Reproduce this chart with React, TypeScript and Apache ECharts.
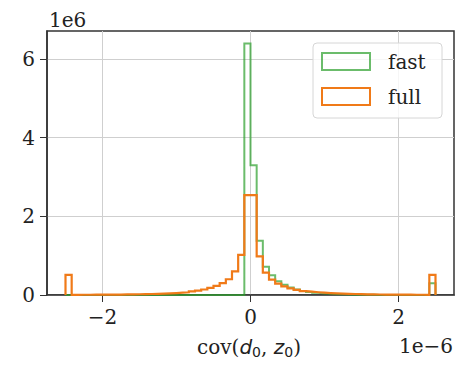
import React, { useEffect, useRef } from "react";
import * as echarts from "echarts";

// Histogram: 60 bins over [-2.5, 2.5] (units of 1e-6), counts in units of 1e6
const BIN_START = -2.5;
const BIN_COUNT = 60;
const BIN_WIDTH = 5 / BIN_COUNT;

const fastValues = [
  0, 0, 0, 0, 0, 0, 0, 0, 0, 0,
  0, 0, 0, 0, 0, 0, 0, 0, 0, 0,
  0, 0, 0, 0, 0, 0, 0, 0, 0, 6.39,
  3.3, 1.38, 0.72, 0.5, 0.35, 0.26, 0.19, 0.14, 0.1, 0.075,
  0.055, 0.04, 0.03, 0.022, 0.016, 0.012, 0.009, 0.007, 0.005, 0.004,
  0.003, 0.003, 0.002, 0.002, 0.002, 0.001, 0.001, 0.001, 0.001, 0.3,
];

const fullValues = [
  0.51, 0.005, 0.006, 0.006, 0.007, 0.008, 0.009, 0.01, 0.012, 0.014,
  0.016, 0.019, 0.022, 0.026, 0.03, 0.036, 0.042, 0.05, 0.06, 0.07,
  0.09, 0.11, 0.14, 0.18, 0.23, 0.3, 0.4, 0.6, 1.02, 2.54,
  2.54, 0.98, 0.57, 0.39, 0.29, 0.22, 0.17, 0.13, 0.1, 0.085,
  0.07, 0.058, 0.048, 0.04, 0.034, 0.029, 0.025, 0.021, 0.018, 0.015,
  0.013, 0.011, 0.01, 0.009, 0.008, 0.007, 0.006, 0.006, 0.005, 0.51,
];

const xTicks = [-2, 0, 2];
const yTicks = [0, 2, 4, 6];
const X_MIN = -2.75;
const X_MAX = 2.75;
const Y_MAX = 6.71;

const FONT = "DejaVu Serif";

function stepOutline(values: number[]): number[][] {
  const pts: number[][] = [];
  values.forEach((v, i) => {
    const x0 = BIN_START + i * BIN_WIDTH;
    const x1 = x0 + BIN_WIDTH;
    if (i === 0) pts.push([x0, 0]);
    pts.push([x0, v], [x1, v]);
  });
  pts.push([BIN_START + values.length * BIN_WIDTH, 0]);
  return pts;
}

const fmtMinus = (v: number) => (v < 0 ? "\u2212" + Math.abs(v) : String(v));

export default function App() {
  const ref = useRef<HTMLDivElement>(null);
  useEffect(() => {
    if (!ref.current) return;
    const chart = echarts.init(ref.current, undefined, { renderer: "svg" });
    const green = "rgba(44,160,44,0.7)";
    const orange = "#f07a18";
    chart.setOption({
      animation: false,
      backgroundColor: "#ffffff",
      grid: {
        left: 47,
        right: 4,
        top: 31,
        bottom: 70,
        show: true,
        borderColor: "#333",
        borderWidth: 1.5,
        backgroundColor: "#fff",
        containLabel: false,
      },
      xAxis: {
        type: "value",
        min: X_MIN,
        max: X_MAX,
        axisLine: { show: true, onZero: false, lineStyle: { color: "#333", width: 1.5 } },
        axisTick: { show: true, length: 7, customValues: xTicks, lineStyle: { color: "#333", width: 1 } },
        axisLabel: {
          customValues: xTicks,
          formatter: (v: number) => fmtMinus(v),
          fontFamily: FONT,
          fontSize: 20,
          color: "#222",
          margin: 12,
        },
        splitLine: { show: true, lineStyle: { color: "#cfcfcf", width: 1 } },
      },
      yAxis: {
        type: "value",
        min: 0,
        max: Y_MAX,
        axisLine: { show: true, onZero: false, lineStyle: { color: "#333", width: 1.5 } },
        axisTick: { show: true, length: 7, customValues: yTicks, lineStyle: { color: "#333", width: 1 } },
        axisLabel: {
          customValues: yTicks,
          fontFamily: FONT,
          fontSize: 20,
          color: "#222",
          margin: 12,
        },
        splitLine: { show: true, lineStyle: { color: "#cfcfcf", width: 1 } },
      },
      series: [
        {
          name: "fast",
          type: "line",
          data: stepOutline(fastValues),
          symbol: "none",
          showSymbol: false,
          lineStyle: { color: green, width: 2, join: "miter" },
          z: 3,
        },
        {
          name: "full",
          type: "line",
          data: stepOutline(fullValues),
          symbol: "none",
          showSymbol: false,
          lineStyle: { color: orange, width: 2.2, join: "miter" },
          z: 4,
        },
      ],
      graphic: [
        {
          type: "text",
          x: 49,
          y: 20,
          style: { text: "1e6", font: `20px "${FONT}"`, fill: "#222", textVerticalAlign: "middle" },
        },
        {
          type: "text",
          x: 453,
          y: 346,
          style: { text: "1e\u22126", font: `20px "${FONT}"`, fill: "#222", textAlign: "right", textVerticalAlign: "middle" },
        },
        {
          type: "text",
          x: 249,
          y: 347,
          style: {
            text: "cov({i|d}{s|0}, {i|z}{s|0})",
            font: `20px "${FONT}"`,
            fill: "#222",
            textAlign: "center",
            textVerticalAlign: "middle",
            rich: {
              i: { fontFamily: "DejaVu Sans", fontStyle: "italic", fontSize: 20, fill: "#222", lineHeight: 24 },
              s: { fontFamily: "DejaVu Sans", fontSize: 14, fill: "#222", lineHeight: 24, padding: [10, 0, 0, 0] },
            },
          },
        },
        {
          type: "rect",
          z: 100,
          shape: { x: 313, y: 43, width: 129, height: 75, r: 4 },
          style: { fill: "rgba(255,255,255,0.8)", stroke: "#d6d6d6", lineWidth: 1 },
        },
        {
          type: "rect",
          z: 101,
          shape: { x: 322, y: 53, width: 48, height: 17 },
          style: { fill: "none", stroke: green, lineWidth: 2 },
        },
        {
          type: "rect",
          z: 101,
          shape: { x: 322, y: 88, width: 48, height: 17 },
          style: { fill: "none", stroke: orange, lineWidth: 2 },
        },
        {
          type: "text",
          z: 101,
          x: 388,
          y: 62,
          style: { text: "fast", font: `20px "${FONT}"`, fill: "#222", textVerticalAlign: "middle" },
        },
        {
          type: "text",
          z: 101,
          x: 388,
          y: 97,
          style: { text: "full", font: `20px "${FONT}"`, fill: "#222", textVerticalAlign: "middle" },
        },
      ],
    });
    return () => chart.dispose();
  }, []);
  return (
    <div
      ref={ref}
      style={{ position: "fixed", left: 0, top: 0, width: 458, height: 365 }}
    />
  );
}
